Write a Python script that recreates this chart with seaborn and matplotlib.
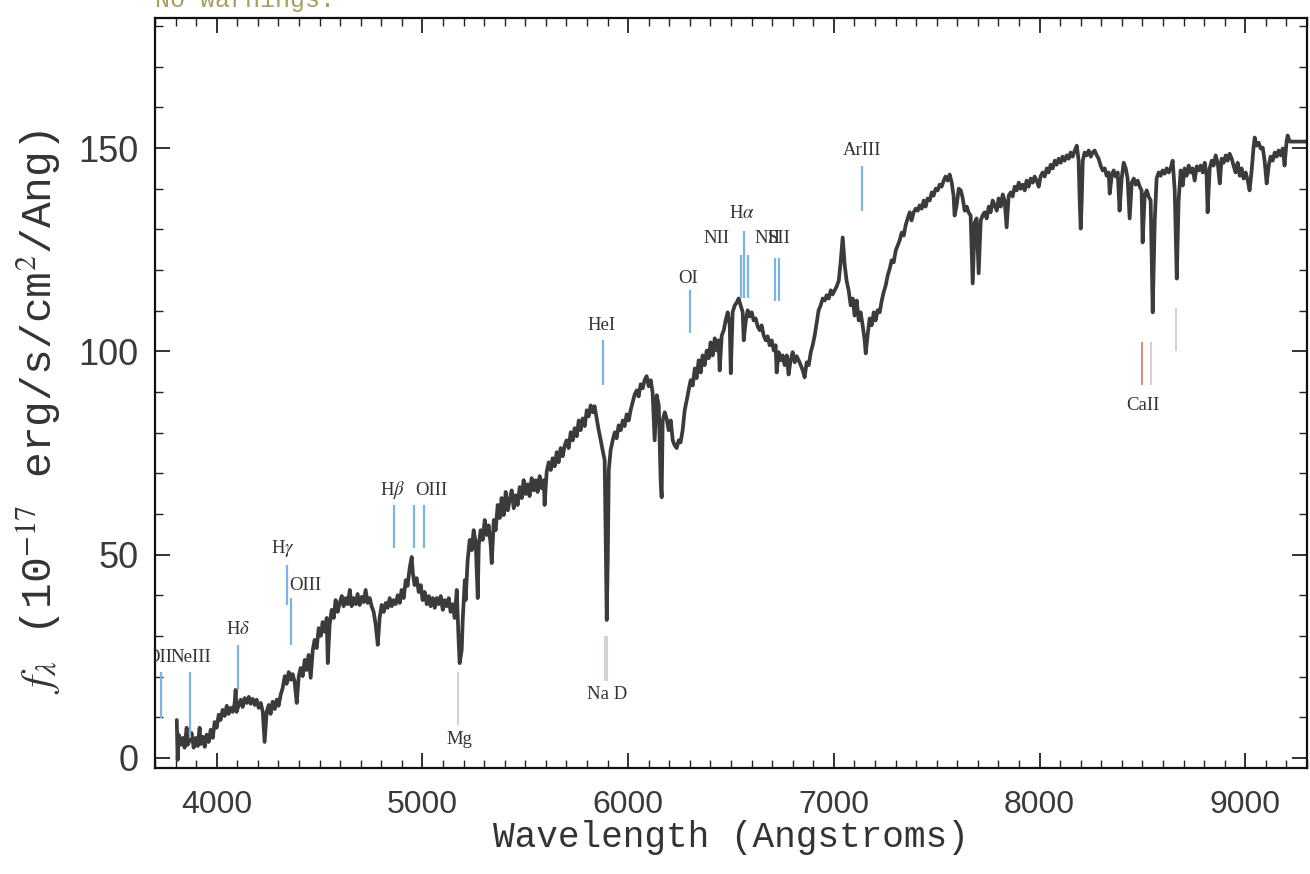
import matplotlib
matplotlib.use("Agg")
import matplotlib.pyplot as plt
import seaborn as sns
import pandas as pd
from matplotlib.ticker import MultipleLocator

# Spectrum in segments (wavelength in Angstrom, flux in 1e-17 erg/s/cm^2/Ang)
wave_a = [3806, 3810, 3815, 3825, 3835, 3844, 3854, 3859, 3869, 3878,
          3888, 3898, 3908, 3917, 3922, 3932, 3942, 3951, 3961, 3971,
          3981, 3990, 4000, 4010, 4019, 4029, 4039, 4049, 4058, 4068,
          4078, 4087, 4092, 4097, 4107, 4117, 4126, 4136, 4146, 4156,
          4165, 4175, 4185, 4194, 4204, 4214, 4224, 4233, 4243, 4253,
          4262, 4272, 4282, 4292, 4301, 4311, 4321, 4331, 4340, 4350,
          4360, 4369, 4379, 4389, 4399, 4408, 4418, 4428, 4437, 4447,
          4457, 4467, 4476, 4486, 4496, 4506, 4515, 4525, 4535, 4540,
          4549, 4559, 4569, 4578, 4588, 4598, 4608, 4617, 4627, 4637,
          4647, 4656, 4666, 4676, 4685, 4695, 4705, 4715, 4724, 4734,
          4744, 4753, 4763, 4773, 4783, 4792, 4802, 4812, 4822, 4831,
          4841, 4851, 4860, 4870, 4880, 4890]
flux_a = [9.3, -0.5, 5.7, 3.2, 4.9, 2.5, 7.4, 3.2, 4.4, 6.1,
          2.5, 4.9, 2.9, 7.4, 3.4, 5.2, 2.7, 5.7, 3.9, 6.9,
          4.9, 8.8, 7.4, 10.6, 9.3, 11.8, 10.3, 12.8, 10.8, 12.3,
          11.3, 13.3, 16.7, 11.3, 13.0, 14.3, 12.5, 14.7, 13.5, 15.0,
          13.3, 14.5, 13.0, 14.3, 12.3, 13.5, 11.3, 3.9, 11.3, 13.0,
          10.8, 13.8, 12.0, 14.3, 12.8, 15.5, 17.2, 20.1, 18.2, 21.1,
          19.2, 20.6, 18.7, 13.5, 20.1, 22.1, 20.1, 24.1, 21.6, 25.3,
          19.7, 26.5, 29.0, 27.0, 31.9, 30.0, 33.4, 31.0, 34.4, 23.3,
          32.7, 36.4, 34.4, 38.8, 35.9, 38.1, 39.8, 37.3, 39.3, 37.8,
          41.3, 37.3, 39.3, 37.8, 40.3, 37.6, 39.6, 38.3, 41.3, 38.1,
          39.3, 37.3, 35.9, 32.7, 27.8, 34.4, 37.6, 35.9, 38.1, 36.9,
          39.3, 37.3, 38.8, 37.8, 40.0, 38.1]

wave_b = [4899, 4909, 4919, 4928, 4938, 4948, 4953, 4962, 4972, 4982,
          4992, 5001, 5011, 5021, 5031, 5040, 5050, 5060, 5069, 5079,
          5089, 5099, 5108, 5118, 5128, 5137, 5147, 5157, 5167, 5176,
          5181, 5191, 5196, 5206, 5210, 5220, 5230, 5240, 5249, 5259,
          5269, 5274, 5283, 5293, 5303, 5312, 5322, 5332, 5337, 5347,
          5356, 5366, 5376, 5385, 5395, 5405, 5415, 5424, 5434, 5444,
          5453, 5463, 5473, 5483, 5492, 5502, 5512, 5521, 5531, 5541,
          5551, 5560, 5570, 5580, 5590, 5594, 5604, 5614, 5624, 5633,
          5643, 5653, 5662, 5672, 5682, 5692, 5701, 5711, 5721, 5731,
          5740, 5750, 5760, 5769, 5779, 5789, 5799, 5808, 5818, 5828,
          5837, 5847, 5857, 5867, 5876, 5886, 5891, 5896, 5901, 5906,
          5915, 5925]
flux_b = [41.3, 39.3, 43.7, 42.3, 46.7, 49.4, 45.7, 42.5, 44.2, 40.8,
          42.5, 38.8, 40.8, 37.8, 39.8, 37.3, 39.3, 36.9, 39.3, 37.8,
          39.8, 36.4, 38.8, 37.3, 39.3, 35.9, 37.8, 34.4, 41.3, 29.0,
          23.3, 26.5, 33.9, 43.7, 38.8, 48.6, 53.6, 51.1, 56.0, 53.1,
          39.3, 52.3, 56.0, 53.6, 58.5, 54.8, 57.2, 52.3, 47.9, 58.5,
          56.0, 62.2, 59.0, 63.9, 59.7, 65.4, 60.9, 63.4, 65.8, 61.4,
          64.6, 62.2, 66.6, 63.9, 68.3, 64.9, 67.3, 64.4, 68.8, 65.8,
          68.3, 65.4, 69.3, 66.3, 68.3, 62.2, 70.3, 72.7, 70.8, 73.7,
          71.7, 75.2, 72.7, 76.2, 74.2, 76.9, 78.1, 76.2, 80.1, 78.1,
          81.1, 79.1, 83.0, 80.6, 83.5, 81.6, 85.5, 84.0, 86.7, 85.0,
          86.5, 83.5, 80.6, 78.1, 75.7, 73.2, 53.6, 33.9, 48.6, 70.8,
          75.7, 78.1]

wave_c = [5935, 5944, 5954, 5964, 5974, 5983, 5993, 6003, 6012, 6022,
          6032, 6042, 6051, 6061, 6071, 6080, 6090, 6100, 6110, 6119,
          6129, 6139, 6149, 6158, 6163, 6168, 6178, 6187, 6197, 6207,
          6217, 6226, 6236, 6246, 6255, 6265, 6275, 6285, 6294, 6304,
          6314, 6324, 6333, 6343, 6353, 6362, 6372, 6382, 6392, 6401,
          6411, 6421, 6430, 6440, 6445, 6455, 6465, 6474, 6484, 6494,
          6499, 6508, 6518, 6528, 6537, 6547, 6557, 6562, 6571, 6581,
          6591, 6601, 6610, 6620, 6630, 6640, 6649, 6659, 6669, 6678,
          6688, 6698, 6708, 6717, 6722, 6732, 6742, 6751, 6761, 6771,
          6780, 6790, 6800, 6810, 6819, 6829, 6839, 6849, 6858, 6868,
          6878, 6888, 6897, 6907, 6917, 6926, 6936, 6946, 6956, 6965,
          6975, 6985, 6994, 7004, 7014, 7024, 7033, 7043, 7053, 7062,
          7072, 7082, 7092, 7101, 7111, 7121]
flux_c = [80.1, 78.6, 81.8, 80.6, 83.0, 81.6, 84.5, 83.0, 85.5, 87.5,
          89.4, 90.4, 88.9, 91.9, 90.9, 92.9, 93.9, 91.4, 92.9, 89.9,
          78.1, 89.2, 86.7, 68.3, 64.1, 83.0, 85.0, 83.5, 80.6, 83.0,
          78.1, 76.9, 76.2, 78.1, 77.6, 80.6, 85.5, 88.0, 90.4, 92.9,
          91.6, 95.8, 93.4, 97.8, 94.8, 99.0, 96.6, 100.2, 98.3, 102.2,
          99.0, 103.2, 100.2, 102.7, 95.3, 103.9, 105.2, 107.6, 109.6, 106.4,
          94.6, 109.6, 111.3, 112.0, 113.0, 111.3, 109.6, 102.7, 107.1, 110.1,
          108.6, 109.6, 107.6, 108.1, 106.1, 105.2, 106.4, 103.9, 102.7, 103.7,
          101.5, 102.7, 100.2, 101.5, 94.8, 99.8, 97.8, 99.0, 96.6, 99.0,
          94.3, 97.8, 99.8, 97.3, 98.8, 97.8, 96.6, 95.3, 93.6, 97.3,
          96.6, 99.8, 101.5, 103.9, 107.1, 110.1, 111.3, 113.0, 112.5, 113.8,
          113.0, 115.0, 114.0, 115.0, 116.0, 117.4, 121.9, 128.0, 121.1, 117.4,
          115.0, 111.3, 113.0, 108.8, 112.5, 107.6]

wave_d = [7130, 7140, 7150, 7155, 7164, 7174, 7184, 7194, 7203, 7213,
          7223, 7233, 7242, 7252, 7262, 7272, 7281, 7291, 7301, 7310,
          7320, 7330, 7340, 7349, 7359, 7369, 7378, 7388, 7398, 7408,
          7417, 7427, 7437, 7446, 7456, 7466, 7476, 7485, 7495, 7505,
          7514, 7524, 7534, 7543, 7553, 7563, 7573, 7582, 7587, 7597,
          7607, 7617, 7626, 7636, 7646, 7655, 7665, 7675, 7685, 7694,
          7704, 7714, 7723, 7733, 7743, 7753, 7762, 7772, 7782, 7792,
          7801, 7811, 7821, 7830, 7840, 7850, 7860, 7869, 7879, 7889,
          7899, 7908, 7918, 7928, 7937, 7947, 7957, 7967, 7976, 7986,
          7996, 8005, 8015, 8025, 8035, 8044, 8054, 8064, 8074, 8083,
          8093, 8103, 8112, 8122, 8132, 8142, 8151, 8161, 8171, 8181,
          8190, 8195, 8200, 8205, 8210, 8219, 8229, 8239, 8249]
flux_d = [109.6, 106.4, 102.7, 99.5, 103.9, 108.1, 106.4, 109.6, 107.6, 110.1,
          109.6, 112.5, 114.5, 116.2, 118.7, 120.4, 122.4, 121.9, 124.8, 126.0,
          127.3, 129.2, 128.5, 131.0, 132.7, 134.2, 132.2, 134.2, 135.1, 134.6,
          135.9, 135.1, 137.1, 135.6, 137.6, 137.1, 139.1, 138.3, 140.0, 139.6,
          141.0, 140.5, 142.0, 143.0, 142.0, 143.5, 141.5, 138.3, 133.4, 135.9,
          140.0, 139.6, 137.8, 134.6, 135.6, 134.2, 133.4, 116.7, 131.7, 132.7,
          119.2, 132.2, 133.4, 134.2, 132.7, 135.6, 134.2, 137.1, 135.9, 134.6,
          137.6, 135.6, 138.6, 137.1, 130.5, 138.3, 139.1, 138.1, 140.5, 139.6,
          141.5, 140.0, 141.0, 139.6, 142.0, 140.5, 142.5, 141.5, 143.0, 142.0,
          140.5, 143.0, 144.0, 143.0, 145.0, 144.0, 145.9, 145.0, 146.9, 145.9,
          147.4, 146.4, 147.9, 146.9, 148.2, 147.4, 148.9, 147.9, 149.4, 150.6,
          146.9, 137.1, 130.2, 137.1, 146.9, 148.9, 148.2, 149.4, 147.9]

wave_e = [8258, 8268, 8278, 8287, 8297, 8307, 8317, 8326, 8336, 8341,
          8351, 8360, 8370, 8380, 8389, 8399, 8409, 8419, 8428, 8438,
          8448, 8458, 8467, 8477, 8487, 8496, 8501, 8511, 8521, 8530,
          8540, 8550, 8560, 8569, 8579, 8589, 8598, 8608, 8618, 8628,
          8637, 8647, 8657, 8667, 8676, 8686, 8696, 8705, 8715, 8725,
          8735, 8744, 8754, 8764, 8773, 8783, 8793, 8803, 8812, 8817,
          8827, 8837, 8846, 8856, 8866, 8876, 8885, 8895, 8905, 8914,
          8924, 8934, 8943, 8953, 8963, 8973, 8982, 8992, 9002, 9012,
          9021, 9031, 9041, 9046, 9055, 9065, 9075, 9085, 9094, 9104,
          9114, 9123, 9133, 9143, 9153, 9162, 9172, 9182, 9191, 9201,
          9206, 9216, 9300]
flux_e = [148.9, 149.4, 148.2, 147.4, 145.7, 144.5, 145.0, 143.2, 144.0, 138.8,
          143.2, 144.5, 143.0, 144.0, 134.6, 142.5, 146.4, 145.0, 142.5, 132.7,
          141.5, 142.5, 141.0, 142.0, 140.5, 139.6, 126.8, 138.3, 139.6, 138.1,
          137.1, 109.6, 132.2, 142.5, 144.0, 143.2, 144.5, 143.7, 145.0, 144.0,
          145.0, 146.9, 139.6, 117.9, 137.1, 144.5, 140.8, 145.0, 143.2, 145.7,
          144.0, 145.0, 142.0, 145.5, 144.5, 145.7, 144.0, 146.4, 143.2, 134.2,
          145.0, 146.9, 145.7, 148.2, 146.4, 141.3, 147.4, 146.4, 148.2, 146.9,
          148.6, 147.4, 145.7, 144.0, 146.4, 143.2, 145.0, 142.5, 144.0, 142.0,
          139.6, 144.5, 150.6, 152.6, 150.6, 151.3, 149.9, 150.1, 146.9, 141.3,
          145.7, 147.9, 146.9, 148.9, 147.9, 149.4, 148.2, 149.9, 145.7, 151.8,
          153.1, 151.6, 151.6]

# Line markers: rest wavelength, bottom and top of the tick (flux units)
emis_wave = [3727, 3869, 4102, 4340, 4363, 4861, 4959, 5007, 5876, 6300,
             6548, 6563, 6583, 6716, 6731, 7136]
emis_lo = [9.8, 4.9, 16.7, 37.6, 27.8, 51.6, 51.6, 51.6, 91.6, 104.4,
           113.0, 113.0, 113.0, 112.5, 112.5, 134.6]
emis_hi = [21.1, 21.1, 27.8, 47.4, 39.3, 62.2, 62.2, 62.2, 102.7, 115.0,
           123.6, 129.7, 123.6, 122.9, 122.9, 145.7]

abs_wave = [5175, 5890, 5896, 8542, 8662]
abs_lo = [8.0, 19.0, 19.0, 91.6, 100.2]
abs_hi = [21.0, 30.0, 30.0, 102.2, 110.6]
cak_wave = [8498]
cak_lo = [91.6]
cak_hi = [102.2]

label_text = ["OII", "NeIII", r"H$\delta$", r"H$\gamma$", "OIII", r"H$\beta$", "OIII",
              "Mg", "Na D", "HeI", "OI", "NII", r"H$\alpha$", "NII", "SII", "ArIII", "CaII"]
label_x = [3722, 3872, 4102, 4321, 4352, 4856, 5045,
           5181, 5896, 5872, 6290, 6430, 6552, 6680, 6735, 7136, 8501]
label_y = [24.8, 24.8, 31.5, 51.5, 42.5, 65.8, 65.8,
           4.4, 15.5, 106.4, 118.0, 127.8, 134.0, 127.8, 127.8, 149.4, 86.7]
label_ha = ["center", "center", "center", "center", "left", "center", "center",
            "center", "center", "center", "center", "center", "center", "center",
            "center", "center", "center"]

spec = pd.DataFrame({
    "wave": wave_a + wave_b + wave_c + wave_d + wave_e,
    "flux": flux_a + flux_b + flux_c + flux_d + flux_e,
})

sns.set_style("ticks")
plt.rcParams["font.family"] = ["Liberation Sans", "DejaVu Sans"]
plt.rcParams["mathtext.fontset"] = "stix"

fig = plt.figure(figsize=(13.1, 8.74), dpi=100)
ax = fig.add_axes([0.1183, 0.1213, 0.8794, 0.8581])

sns.lineplot(data=spec, x="wave", y="flux", sort=False, estimator=None,
             color="#3b3b3b", linewidth=2.7, ax=ax)

ax.vlines(emis_wave, emis_lo, emis_hi, colors="#7db3e3", linewidth=1.6)
ax.vlines(abs_wave, abs_lo, abs_hi, colors="#d6d0d6", linewidth=1.4)
ax.vlines(cak_wave, cak_lo, cak_hi, colors="#e08a7a", linewidth=1.4)

for t, x, y, ha in zip(label_text, label_x, label_y, label_ha):
    ax.text(x, y, t, ha=ha, va="center", fontsize=13.5, color="#333333",
            family=["Liberation Serif", "DejaVu Serif"], clip_on=True)

ax.set_xlim(3700, 9300)
ax.set_ylim(-2.5, 182)
ax.xaxis.set_major_locator(MultipleLocator(1000))
ax.xaxis.set_minor_locator(MultipleLocator(100))
ax.yaxis.set_major_locator(MultipleLocator(50))
ax.yaxis.set_minor_locator(MultipleLocator(10))
ax.tick_params(which="both", direction="in", top=True, right=True,
               labelcolor="#3a3a3a", color="#222222")
ax.tick_params(which="major", length=11, width=1.3)
ax.tick_params(which="minor", length=5.5, width=1.0)
ax.tick_params(axis="x", which="major", pad=16, labelsize=23)
ax.tick_params(axis="y", which="major", pad=12, labelsize=26)
for sp in ax.spines.values():
    sp.set_linewidth(1.6)
    sp.set_color("#111111")

ax.set_xlabel("Wavelength (Angstroms)", fontsize=26, color="#333333",
              family=["Liberation Mono", "DejaVu Sans Mono"], labelpad=0)
ax.set_ylabel(r"$f_\lambda$ (10$^{-17}$ erg/s/cm$^2$/Ang)", fontsize=31,
              color="#333333", family=["Liberation Mono", "DejaVu Sans Mono"])
ax.yaxis.set_label_coords(-0.08, 0.475)

fig.text(0.118, 1.0, "No warnings.", ha="left", va="center", fontsize=18,
         color="#a8a060", family=["Liberation Mono", "DejaVu Sans Mono"])

fig.savefig("out.png", dpi=100)
